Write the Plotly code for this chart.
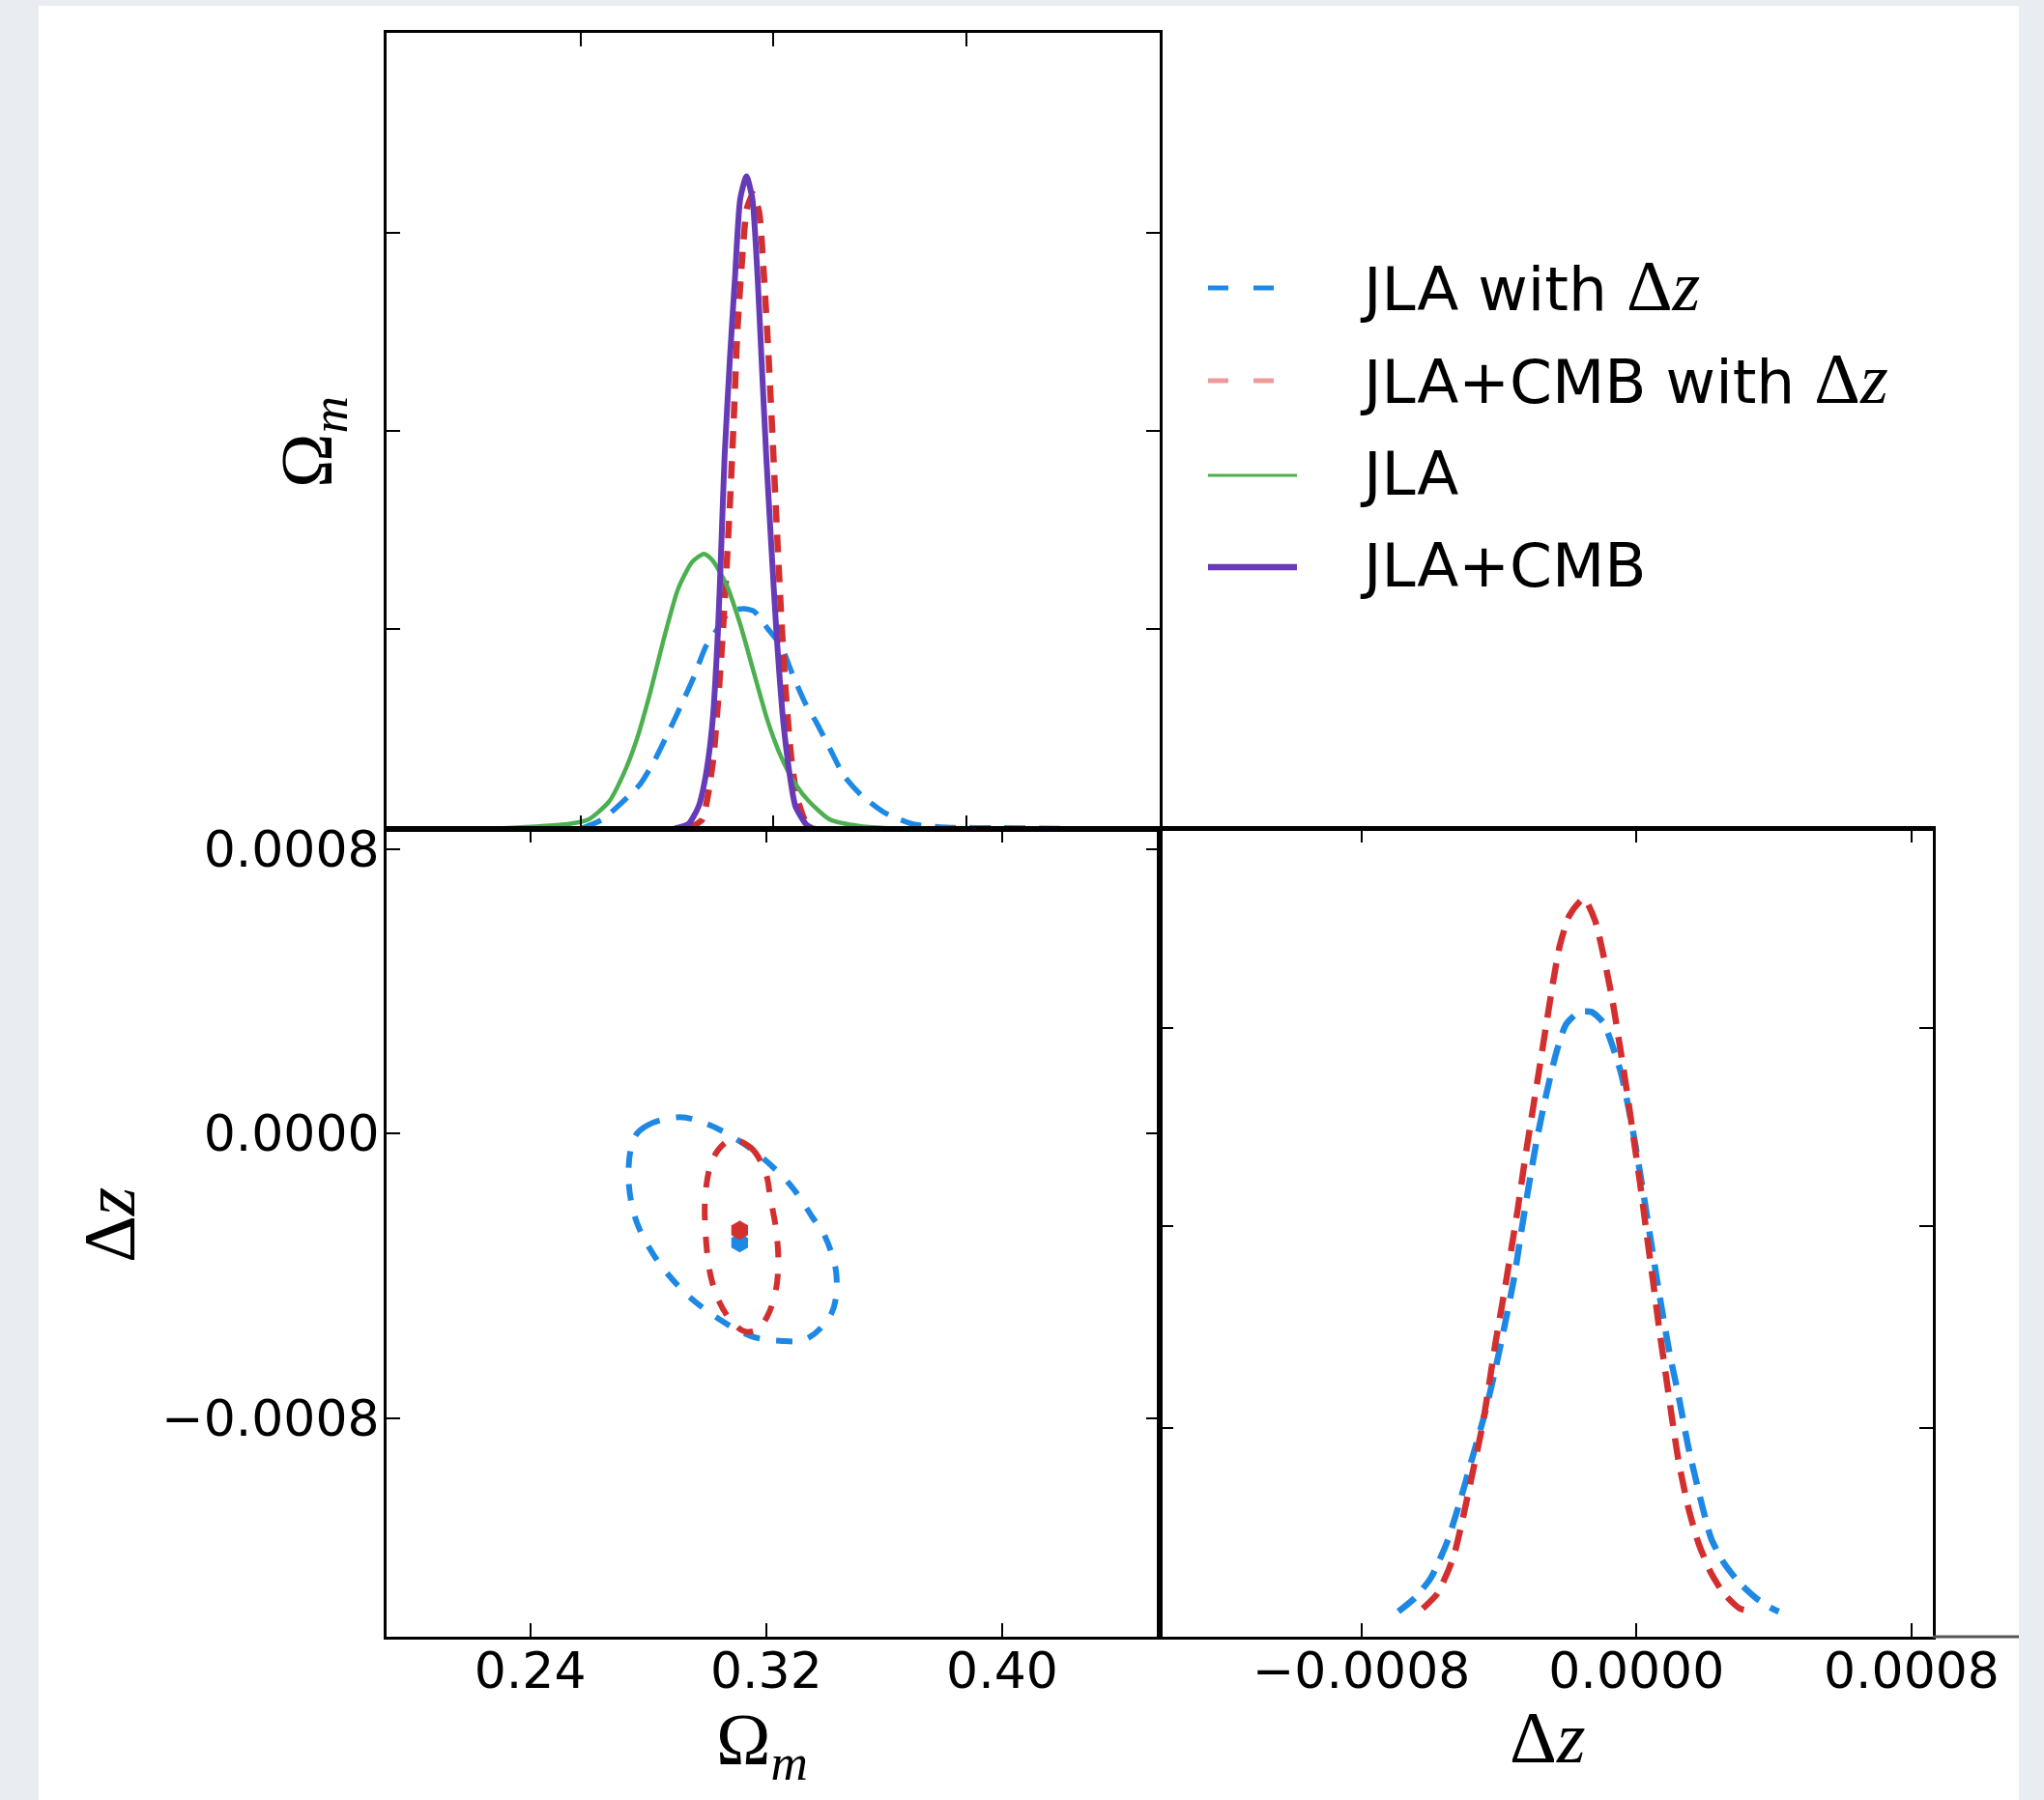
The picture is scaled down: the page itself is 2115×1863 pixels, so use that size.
import plotly.graph_objects as go

W, H = 2115, 1863

# ---------------- data ----------------
# 1D marginal of Omega_m (top-left panel), normalised heights
blue_om_x = [0.2573, 0.2644, 0.2714, 0.2773, 0.2819, 0.2878, 0.2913, 0.2954, 0.2995, 0.3030, 0.3077,
             0.3124, 0.3159, 0.3206, 0.3252, 0.3288, 0.3334, 0.3369, 0.3416, 0.3463, 0.3522, 0.3603,
             0.3697, 0.3814, 0.4000, 0.4200]
blue_om_p = [0.0, 0.0136, 0.041, 0.068, 0.102, 0.156, 0.190, 0.231, 0.278, 0.302, 0.332,
             0.336, 0.332, 0.305, 0.278, 0.237, 0.190, 0.163, 0.122, 0.081, 0.051, 0.0237,
             0.0068, 0.002, 0.001, 0.0]

red_om_x = [0.2936, 0.2983, 0.3001, 0.3021, 0.3036, 0.3051, 0.3065, 0.3079, 0.3091, 0.3102, 0.3118,
            0.3135, 0.3156, 0.3176, 0.3191, 0.3206, 0.3221, 0.3235, 0.3250, 0.3266, 0.3285, 0.3305,
            0.3334, 0.3363]
red_om_p = [0.0, 0.0136, 0.047, 0.108, 0.190, 0.285, 0.393, 0.515, 0.637, 0.759, 0.868,
            0.949, 0.970, 0.942, 0.854, 0.739, 0.603, 0.468, 0.332, 0.210, 0.108, 0.047,
            0.010, 0.0]

green_om_x = [0.2292, 0.2527, 0.2597, 0.2667, 0.2714, 0.2761, 0.2808, 0.2854, 0.2901, 0.2948, 0.2989,
              0.3018, 0.3065, 0.3112, 0.3159, 0.3206, 0.3252, 0.3299, 0.3346, 0.3416, 0.3522, 0.3639]
green_om_p = [0.0, 0.0068, 0.0136, 0.041, 0.081, 0.136, 0.210, 0.292, 0.366, 0.407, 0.420,
              0.410, 0.373, 0.312, 0.237, 0.163, 0.108, 0.068, 0.041, 0.0136, 0.0034, 0.0]

purple_om_x = [0.2890, 0.2936, 0.2971, 0.2995, 0.3018, 0.3036, 0.3048, 0.3059, 0.3077, 0.3094, 0.3112,
               0.3133, 0.3153, 0.3171, 0.3184, 0.3200, 0.3217, 0.3235, 0.3258, 0.3282, 0.3299, 0.3334,
               0.3358]
purple_om_p = [0.0, 0.0068, 0.034, 0.081, 0.163, 0.298, 0.434, 0.570, 0.719, 0.841, 0.963,
               0.997, 0.963, 0.841, 0.719, 0.570, 0.434, 0.298, 0.163, 0.075, 0.034, 0.007,
               0.0]

# 2D contours (bottom-left panel)
blue_cont_om = [0.2908, 0.2798, 0.2755, 0.2733, 0.2755, 0.2820, 0.2919, 0.3028, 0.3148, 0.3247,
                0.3334, 0.3421, 0.3438, 0.3399, 0.3356, 0.3290, 0.3192, 0.3093, 0.2995, 0.2908]
blue_cont_dz = [0.0000462, 0.0000236, -0.0000082, -0.0001076, -0.0002344, -0.0003431, -0.0004427,
                -0.0005150, -0.0005694, -0.0005829, -0.0005786, -0.0005060, -0.0003974, -0.0002888,
                -0.0002344, -0.0001529, -0.0000714, -0.0000125, 0.0000283, 0.0000462]

red_cont_om = [0.3083, 0.3148, 0.3197, 0.3214, 0.3235, 0.3241, 0.3230, 0.3203, 0.3170, 0.3126,
               0.3083, 0.3039, 0.3011, 0.2995, 0.2993, 0.3011, 0.3039, 0.3083]
red_cont_dz = [-0.0000171, -0.0000397, -0.0001076, -0.0001801, -0.0002798, -0.0003703, -0.0004518,
               -0.0005150, -0.0005515, -0.0005558, -0.0005286, -0.0004699, -0.0003974, -0.0002888,
               -0.0001801, -0.0000896, -0.0000443, -0.0000171]

best_om = [0.3110, 0.3110]          # blue, red
best_dz = [-0.000307, -0.000272]    # blue, red

# 1D marginal of Delta z (bottom-right panel)
red_dz_x = [-0.000621, -0.000579, -0.000533, -0.000504, -0.000476, -0.000448, -0.000429, -0.000411,
            -0.000383, -0.000364, -0.000345, -0.000326, -0.000303, -0.000284, -0.000261, -0.000242,
            -0.000223, -0.000195, -0.000153, -0.000120, -0.000092, -0.000069, -0.000045, -0.000027,
            -0.000008, 0.000011, 0.000030, 0.000048, 0.000067, 0.000086, 0.000105, 0.000123,
            0.000151, 0.000180, 0.000217, 0.000255, 0.000301, 0.000348]
red_dz_p = [0.038, 0.058, 0.106, 0.161, 0.222, 0.284, 0.338, 0.393, 0.468, 0.522, 0.577, 0.638,
            0.706, 0.761, 0.829, 0.884, 0.932, 0.973, 0.996, 0.966, 0.911, 0.857, 0.788, 0.734,
            0.672, 0.611, 0.543, 0.481, 0.413, 0.352, 0.290, 0.236, 0.174, 0.127, 0.086, 0.058,
            0.038, 0.034]

blue_dz_x = [-0.000692, -0.000645, -0.000598, -0.000551, -0.000514, -0.000476, -0.000439, -0.000411,
             -0.000383, -0.000354, -0.000336, -0.000312, -0.000289, -0.000261, -0.000233, -0.000205,
             -0.000167, -0.000130, -0.000097, -0.000073, -0.000045, -0.000017, 0.000011, 0.000039,
             0.000067, 0.000095, 0.000123, 0.000151, 0.000189, 0.000217, 0.000255, 0.000301,
             0.000348, 0.000395, 0.000414]
blue_dz_p = [0.034, 0.052, 0.079, 0.127, 0.181, 0.243, 0.304, 0.359, 0.420, 0.488, 0.543, 0.611,
             0.672, 0.734, 0.788, 0.826, 0.843, 0.843, 0.829, 0.802, 0.761, 0.700, 0.625, 0.543,
             0.461, 0.386, 0.324, 0.256, 0.181, 0.133, 0.099, 0.072, 0.052, 0.038, 0.034]

# axes ranges and ticks
om_range = [0.1913, 0.4534]
dz_range_y = [-0.001415, 0.000858]
dz_range_x = [-0.001386, 0.000862]
p_om_range = [0.0, 1.2168]
p_dz_range = [0.0, 1.0905]

om_ticks = [0.24, 0.32, 0.40]
om_ticktext = ["0.24", "0.32", "0.40"]
dz_ticks = [0.0008, 0.0, -0.0008]
dz_ticktext = ["0.0008", "0.0000", "\u22120.0008"]
tl_x_ticks = [0.2572, 0.3225, 0.3880]
tl_y_ticks = [0.305, 0.608, 0.910]
br_y_ticks = [0.282, 0.554, 0.821]

legend_labels = ["JLA with \u0394<i>z</i>", "JLA+CMB with \u0394<i>z</i>", "JLA", "JLA+CMB"]

# ---------------- styles ----------------
BLUE = "#1e88e5"
RED = "#d32f2f"
PINK = "#ef9a9a"
GREEN = "#4caf50"
PURPLE = "#673ab7"


def fx(px):
    return px / W


def fy(px):
    return 1 - px / H


fig = go.Figure()

# top-left: Omega_m marginals
fig.add_trace(go.Scatter(x=blue_om_x, y=blue_om_p, mode="lines", xaxis="x", yaxis="y",
                         line=dict(color=BLUE, width=5.5, dash="22px,14px", shape="spline", smoothing=0.6)))
fig.add_trace(go.Scatter(x=red_om_x, y=red_om_p, mode="lines", xaxis="x", yaxis="y",
                         line=dict(color=RED, width=6.5, dash="18px,13px", shape="spline", smoothing=0.6)))
fig.add_trace(go.Scatter(x=green_om_x, y=green_om_p, mode="lines", xaxis="x", yaxis="y",
                         line=dict(color=GREEN, width=4.5, shape="spline", smoothing=0.6)))
fig.add_trace(go.Scatter(x=purple_om_x, y=purple_om_p, mode="lines", xaxis="x", yaxis="y",
                         line=dict(color=PURPLE, width=6, shape="spline", smoothing=0.6)))

# bottom-left: contours
fig.add_trace(go.Scatter(x=blue_cont_om, y=blue_cont_dz, mode="lines", xaxis="x2", yaxis="y2",
                         line=dict(color=BLUE, width=6, dash="17px,17px", shape="spline", smoothing=1.0)))
fig.add_trace(go.Scatter(x=red_cont_om, y=red_cont_dz, mode="lines", xaxis="x2", yaxis="y2",
                         line=dict(color=RED, width=6, dash="17px,17px", shape="spline", smoothing=1.0)))
fig.add_trace(go.Scatter(x=best_om, y=best_dz, mode="markers", xaxis="x2", yaxis="y2",
                         marker=dict(symbol="hexagon", size=20, color=[BLUE, RED], line=dict(width=0))))

# bottom-right: Delta z marginals
fig.add_trace(go.Scatter(x=blue_dz_x, y=blue_dz_p, mode="lines", xaxis="x3", yaxis="y3",
                         line=dict(color=BLUE, width=6.5, dash="22px,13px", shape="spline", smoothing=0.6)))
fig.add_trace(go.Scatter(x=red_dz_x, y=red_dz_p, mode="lines", xaxis="x3", yaxis="y3",
                         line=dict(color=RED, width=6.5, dash="22px,13px", shape="spline", smoothing=0.6)))

common = dict(showgrid=False, zeroline=False, showline=True, linecolor="black", linewidth=3,
              mirror="allticks", ticks="inside", ticklen=14, tickwidth=2, tickcolor="black",
              automargin=False,
              tickfont=dict(family="DejaVu Sans", size=52, color="black"))

x_left = [fx(400), fx(1200)]
x_right = [fx(1200), fx(2000)]
y_top = [fy(857.5), fy(33.7)]
y_bot = [fy(1694), fy(857.5)]

fig.update_layout(
    width=W, height=H, autosize=False,
    margin=dict(l=0, r=0, t=0, b=0, pad=0, autoexpand=False),
    paper_bgcolor="#e9ecf0",
    plot_bgcolor="white",
    showlegend=False,
    xaxis=dict(domain=x_left, anchor="y", range=om_range, tickvals=tl_x_ticks,
               showticklabels=False, **common),
    yaxis=dict(domain=y_top, anchor="x", range=p_om_range, tickvals=tl_y_ticks,
               showticklabels=False, **common),
    xaxis2=dict(domain=x_left, anchor="y2", range=om_range, tickvals=om_ticks,
                ticktext=om_ticktext, ticklabelstandoff=-12, **common),
    yaxis2=dict(domain=y_bot, anchor="x2", range=dz_range_y, tickvals=dz_ticks,
                ticktext=dz_ticktext, ticklabelstandoff=-6, **common),
    xaxis3=dict(domain=x_right, anchor="y3", range=dz_range_x, tickvals=dz_ticks,
                ticktext=dz_ticktext, ticklabelstandoff=-12, **common),
    yaxis3=dict(domain=y_bot, anchor="x3", range=p_dz_range, tickvals=br_y_ticks,
                showticklabels=False, **common),
)

shapes = [
    # white card
    dict(type="rect", xref="paper", yref="paper", x0=fx(40), x1=fx(2089), y0=0, y1=fy(6),
         fillcolor="white", line=dict(width=0), layer="below"),
    # thick separator line between rows
    dict(type="line", xref="paper", yref="paper", x0=fx(400), x1=fx(2000), y0=fy(857.5), y1=fy(857.5),
         line=dict(color="black", width=5)),
    # extension of bottom axis line to the card edge
    dict(type="line", xref="paper", yref="paper", x0=fx(2000), x1=fx(2089), y0=fy(1694), y1=fy(1694),
         line=dict(color="#555555", width=3)),
]

annotations = []
# legend (drawn manually)
leg_y = [298, 394, 492, 587]
leg_styles = [dict(color=BLUE, width=5, dash="21px,26px"),
              dict(color=PINK, width=5, dash="21px,26px"),
              dict(color=GREEN, width=3),
              dict(color=PURPLE, width=6.5)]
for yy, st, lab in zip(leg_y, leg_styles, legend_labels):
    shapes.append(dict(type="line", xref="paper", yref="paper", x0=fx(1250), x1=fx(1342),
                       y0=fy(yy), y1=fy(yy), line=st))
    lab_html = lab.replace("\u0394<i>z</i>",
                           "<span style=\"font-family:'Liberation Serif';font-size:74px\">\u0394<i>z</i></span>")
    annotations.append(dict(x=fx(1405), y=fy(yy - 2), xref="paper", yref="paper", text=lab_html,
                            showarrow=False, xanchor="left", yanchor="middle",
                            font=dict(family="DejaVu Sans", size=63, color="black")))

title_font = dict(family="Liberation Serif", size=76, color="black")
annotations += [
    dict(x=fx(788), y=fy(1806), xref="paper", yref="paper", text="\u03a9<sub><i>m</i></sub>",
         showarrow=False, xanchor="center", yanchor="middle", font=title_font),
    dict(x=fx(1601), y=fy(1798), xref="paper", yref="paper", text="\u0394<i>z</i>",
         showarrow=False, xanchor="center", yanchor="middle", font=title_font),
    dict(x=fx(323), y=fy(458), xref="paper", yref="paper", text="\u03a9<sub><i>m</i></sub>",
         showarrow=False, xanchor="center", yanchor="middle", textangle=-90, font=title_font),
    dict(x=fx(113), y=fy(1268), xref="paper", yref="paper", text="\u0394<i>z</i>",
         showarrow=False, xanchor="center", yanchor="middle", textangle=-90, font=title_font),
]

fig.update_layout(shapes=shapes, annotations=annotations)
fig.write_html(
    "out.html",
    config={"responsive": False, "displayModeBar": False},
    post_script="document.body.style.margin='0';document.body.style.padding='0';"
                "document.documentElement.style.overflow='hidden';document.body.style.overflow='hidden';",
)
